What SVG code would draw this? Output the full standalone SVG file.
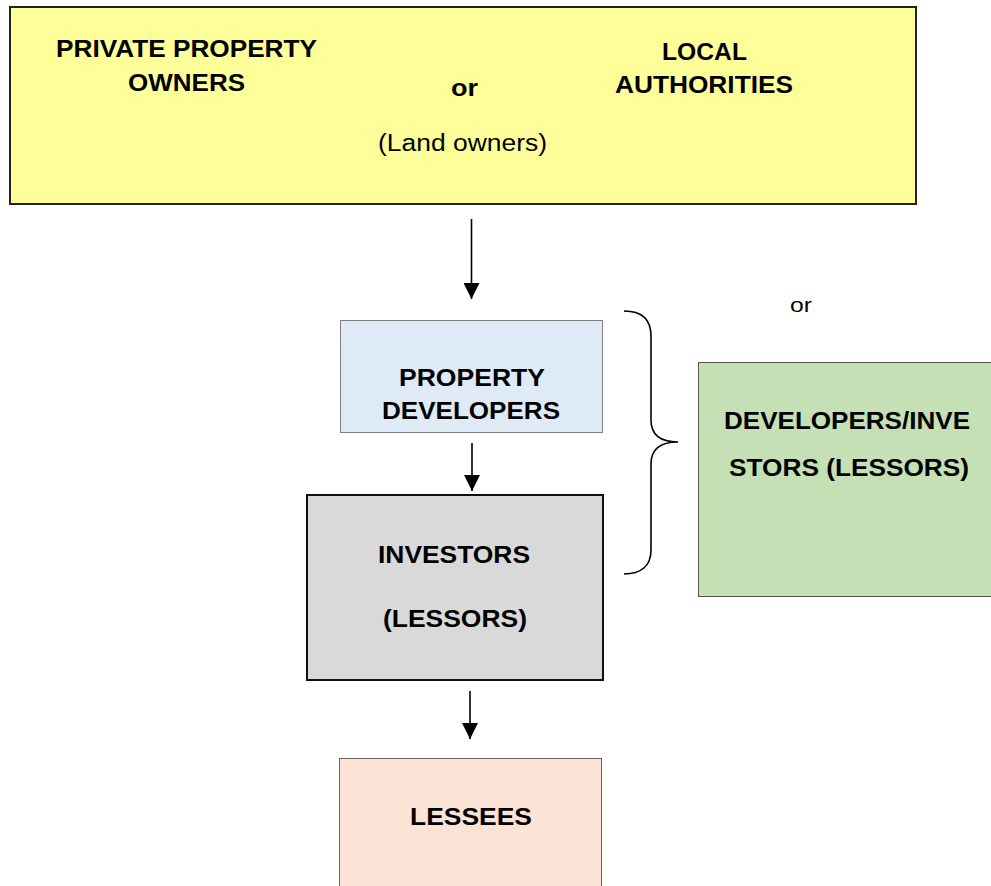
<svg xmlns="http://www.w3.org/2000/svg" width="991" height="886" viewBox="0 0 991 886">
  <style>
    .t { font-family: "Liberation Sans", Arial, sans-serif; fill: #000; }
    .b { font-weight: bold; font-size: 23.5px; }
    .r { font-weight: normal; font-size: 23px; }
    .edge { stroke: #000; stroke-width: 1.6; fill: none; }
  </style>
  <defs>
    <marker id="arrow" viewBox="0 0 16 16" refX="16" refY="8" markerWidth="16" markerHeight="16" markerUnits="userSpaceOnUse" orient="auto">
      <path d="M0,0 L16,8 L0,16 Z" fill="#000"/>
    </marker>
  </defs>

  <rect width="991" height="886" fill="#fff"/>

  <!-- land owners -->
  <g id="land-owners">
    <rect x="10" y="7" width="906" height="197" fill="#FFFF99" stroke="#222" stroke-width="2"/>
    <text class="t b" x="56" y="57" textLength="261" lengthAdjust="spacingAndGlyphs">PRIVATE PROPERTY</text>
    <text class="t b" x="128" y="91" textLength="117" lengthAdjust="spacingAndGlyphs">OWNERS</text>
    <text class="t b" x="451" y="96" textLength="27" lengthAdjust="spacingAndGlyphs">or</text>
    <text class="t b" x="662" y="60" textLength="85" lengthAdjust="spacingAndGlyphs">LOCAL</text>
    <text class="t b" x="615" y="93" textLength="178" lengthAdjust="spacingAndGlyphs">AUTHORITIES</text>
    <text class="t r" x="378" y="151" textLength="169" lengthAdjust="spacingAndGlyphs">(Land owners)</text>
  </g>

  <!-- property developers -->
  <g id="property-developers">
    <rect x="340.5" y="320.5" width="262" height="112" fill="#DEEAF6" stroke="#7F7F7F" stroke-width="1"/>
    <text class="t b" x="399" y="386" textLength="146" lengthAdjust="spacingAndGlyphs">PROPERTY</text>
    <text class="t b" x="382" y="419" textLength="178" lengthAdjust="spacingAndGlyphs">DEVELOPERS</text>
  </g>

  <!-- investors -->
  <g id="investors">
    <rect x="307" y="495" width="296" height="185" fill="#D9D9D9" stroke="#111" stroke-width="2"/>
    <text class="t b" x="378" y="563" textLength="152" lengthAdjust="spacingAndGlyphs">INVESTORS</text>
    <text class="t b" x="383" y="627" textLength="144" lengthAdjust="spacingAndGlyphs">(LESSORS)</text>
  </g>

  <!-- lessees -->
  <g id="lessees">
    <rect x="339.5" y="758.5" width="262" height="140" fill="#FBE3D6" stroke="#6F5F58" stroke-width="1"/>
    <text class="t b" x="410" y="825" textLength="122" lengthAdjust="spacingAndGlyphs">LESSEES</text>
  </g>

  <!-- combined developers / investors -->
  <g id="developers-investors">
    <rect x="698.5" y="362.5" width="293" height="234" fill="#C5E0B4" stroke="#555" stroke-width="1"/>
    <text class="t b" x="724" y="429" textLength="246" lengthAdjust="spacingAndGlyphs">DEVELOPERS/INVE</text>
    <text class="t b" x="729" y="476" textLength="240" lengthAdjust="spacingAndGlyphs">STORS (LESSORS)</text>
  </g>

  <g id="alternative-label">
    <text class="t" font-size="21" x="790" y="312" textLength="22" lengthAdjust="spacingAndGlyphs">or</text>
  </g>

  <!-- connectors -->
  <g id="connectors">
    <line class="edge" x1="471.5" y1="219" x2="471.5" y2="299" marker-end="url(#arrow)"/>
    <line class="edge" x1="472" y1="443" x2="472" y2="491" marker-end="url(#arrow)"/>
    <line class="edge" x1="470" y1="691" x2="470" y2="739" marker-end="url(#arrow)"/>
    <path class="edge" d="M624,311 C641,311 651,319 651,336 L651,420 C651,436 661,442 678,442 C661,442 651,448 651,464 L651,550 C651,566 641,574 624,574"/>
  </g>
</svg>
